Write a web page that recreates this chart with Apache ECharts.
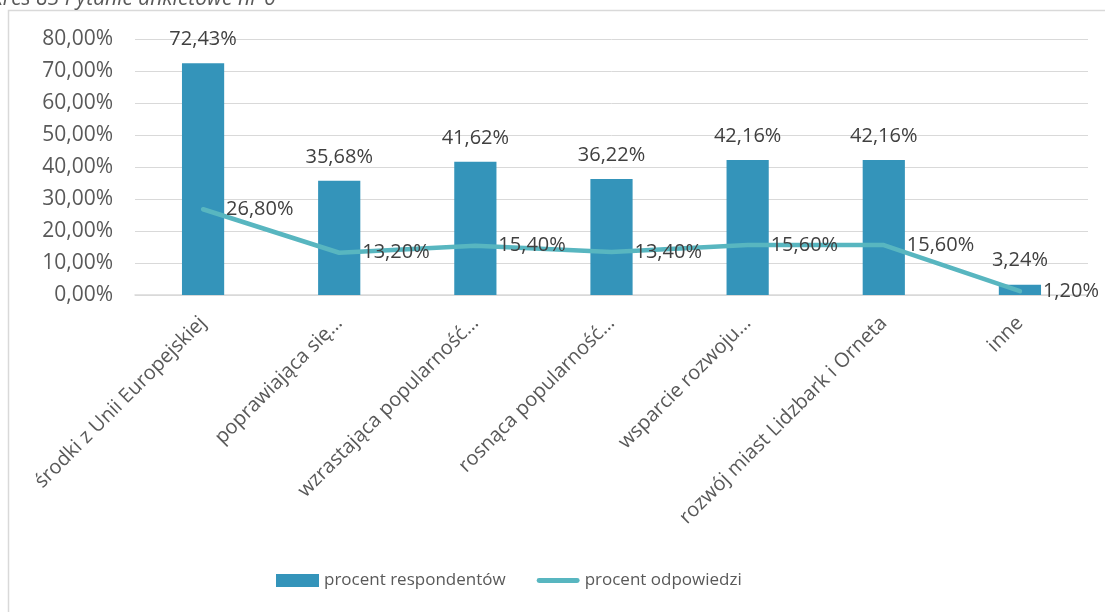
<!DOCTYPE html>
<html>
<head>
<meta charset="utf-8">
<script src="https://cdn.jsdelivr.net/npm/echarts@6/dist/echarts.min.js"></script>
<style>
html,body{margin:0;padding:0;background:#fff;}
#c{width:1105px;height:612px;}
</style>
</head>
<body>
<div id="c"></div>
<script>
const titleText = 'Wykres 83 Pytanie ankietowe nr 6';
const categories = ['środki z Unii Europejskiej','poprawiająca się…','wzrastająca popularność…','rosnąca popularność…','wsparcie rozwoju…','rozwój miast Lidzbark i Orneta','inne'];
const seriesNames = ['procent respondentów','procent odpowiedzi'];
const respondents = [72.43,35.68,41.62,36.22,42.16,42.16,3.24];
const answers = [26.80,13.20,15.40,13.40,15.60,15.60,1.20];
const yTicks = {min:0,max:80,interval:10};

const fmt = v => v.toFixed(2).replace('.',',') + '%';
const FONT = 'Open Sans';
const LINE_COLOR = '#58B6C0';

const chart = echarts.init(document.getElementById('c'), null, {renderer:'canvas'});
chart.setOption({
  animation:false,
  backgroundColor:'#fff',
  textStyle:{fontFamily:FONT},
  graphic:[
    {type:'rect', shape:{x:8.5,y:10.5,width:1120,height:640}, style:{fill:'none',stroke:'#d9d9d9',lineWidth:1.5}, silent:true},
    {type:'text', x:-35, y:-11, style:{text:titleText, font:'italic 21px "Open Sans"', fill:'#595959', verticalAlign:'top'}}
  ],
  grid:{left:135,right:17,top:39,bottom:317,containLabel:false},
  legend:{
    bottom:18, left:271, itemGap:31, itemWidth:43, itemHeight:13,
    textStyle:{fontSize:17,color:'#595959',fontFamily:FONT},
    data:[
      {name:seriesNames[0], icon:'rect'},
      {name:seriesNames[1], icon:'path://M2.5,0 L41.5,0 A2.5,2.5 0 0 1 41.5,5 L2.5,5 A2.5,2.5 0 0 1 2.5,0 Z', itemStyle:{color:LINE_COLOR, opacity:1}}
    ]
  },
  xAxis:{
    type:'category', data:categories,
    axisLine:{lineStyle:{color:'#d9d9d9',width:1.5}},
    axisTick:{show:false},
    axisLabel:{rotate:45, interval:0, fontSize:20, color:'#595959', fontFamily:FONT, margin:25}
  },
  yAxis:{
    type:'value', min:yTicks.min, max:yTicks.max, interval:yTicks.interval,
    axisLine:{show:false}, axisTick:{show:false},
    splitLine:{lineStyle:{color:'#d9d9d9',width:1}},
    axisLabel:{formatter:v=>v.toFixed(2).replace('.',',')+'%', fontSize:21, color:'#595959', fontFamily:FONT, margin:22}
  },
  series:[
    {
      name:seriesNames[0], type:'bar', data:respondents, barWidth:'31%',
      itemStyle:{color:'#3494BA'},
      label:{show:true, position:'top', distance:14, formatter:p=>fmt(p.value), fontSize:20, color:'#404040', fontFamily:FONT}
    },
    {
      name:seriesNames[1], type:'line', data:answers,
      symbol:'circle', symbolSize:2, showSymbol:true,
      lineStyle:{color:LINE_COLOR,width:4.5,cap:'round',join:'round'},
      itemStyle:{color:LINE_COLOR},
      label:{show:true, position:'right', distance:22, formatter:p=>fmt(p.value), fontSize:20, color:'#404040', fontFamily:FONT},
      z:5
    }
  ]
});
</script>
</body>
</html>
